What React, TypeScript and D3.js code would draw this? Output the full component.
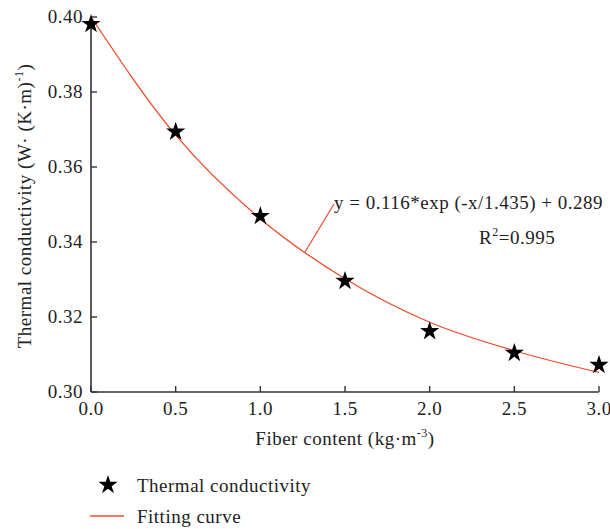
import React from "react";
import * as d3 from "d3";

const xValues = [0, 0.5, 1.0, 1.5, 2.0, 2.5, 3.0];
const conductivity = [0.3981, 0.3694, 0.3469, 0.3296, 0.3162, 0.3104, 0.3072];
const fitX = [0, 0.5, 1.0, 1.5, 2.0, 2.5, 3.0];
const fitY = [0.4, 0.3685, 0.3462, 0.3302, 0.3186, 0.311, 0.3052];
const xTicks = [0, 0.5, 1.0, 1.5, 2.0, 2.5, 3.0];
const yTicks = [0.3, 0.32, 0.34, 0.36, 0.38, 0.4];

const W = 610;
const H = 529;
const left = 91;
const right = 599;
const top = 17;
const bottom = 392;
const FONT = "'Liberation Serif', 'DejaVu Serif', serif";
const RED = "#f04a2a";
const AXIS = "#333";
const FS = 19;
const LS = 0.5;

export default function App() {
  const x = d3.scaleLinear().domain([0, 3]).range([left, right]);
  const y = d3.scaleLinear().domain([0.3, 0.4]).range([bottom, top]);
  const line = d3
    .line<number>()
    .x((_, i) => x(fitX[i]))
    .y((d) => y(d))
    .curve(d3.curveMonotoneX);
  const star = d3.symbol().type(d3.symbolStar).size(115)() as string;

  return (
    <svg
      width={W}
      height={H}
      style={{ position: "absolute", left: 0, top: 0, background: "#fff" }}
      fontFamily={FONT}
      letterSpacing={LS}
    >
      <rect width={W} height={H} fill="#fff" />
      <path d={line(fitY) || ""} fill="none" stroke={RED} strokeWidth={1.3} />
      <line x1={left} x2={left} y1={top} y2={bottom} stroke={AXIS} strokeWidth={1.6} />
      <line x1={left} x2={right} y1={bottom} y2={bottom} stroke={AXIS} strokeWidth={1.6} />
      {yTicks.map((t) => (
        <g key={"y" + t}>
          <line x1={left} x2={left + 6} y1={y(t)} y2={y(t)} stroke={AXIS} strokeWidth={1.4} />
          <text x={left - 8} y={y(t) + 6} textAnchor="end" fontSize={FS} fill="#222">
            {t.toFixed(2)}
          </text>
        </g>
      ))}
      {xTicks.map((t) => (
        <g key={"x" + t}>
          <line x1={x(t)} x2={x(t)} y1={bottom} y2={bottom - 6} stroke={AXIS} strokeWidth={1.4} />
          <text x={x(t)} y={bottom + 23} textAnchor="middle" fontSize={FS} fill="#222">
            {t.toFixed(1)}
          </text>
        </g>
      ))}
      {xValues.map((v, i) => (
        <path key={"p" + i} d={star} transform={`translate(${x(v)},${y(conductivity[i])})`} fill="#000" />
      ))}
      <line x1={305} y1={252} x2={334} y2={204} stroke={RED} strokeWidth={1.2} />
      <text x={334} y={209} fontSize={FS} fill="#222">
        y = 0.116*exp (-x/1.435) + 0.289
      </text>
      <text x={479} y={244} fontSize={FS} fill="#222">
        R<tspan dy={-8} fontSize={12}>2</tspan>
        <tspan dy={8}>=0.995</tspan>
      </text>
      <text
        transform={`translate(31,206) rotate(-90)`}
        textAnchor="middle"
        fontSize={FS}
        fill="#222"
      >
        Thermal conductivity (W· (K·m)
        <tspan dy={-8} fontSize={12}>-1</tspan>
        <tspan dy={8}>)</tspan>
      </text>
      <text x={345} y={445} textAnchor="middle" fontSize={FS} fill="#222">
        Fiber content (kg·m
        <tspan dy={-8} fontSize={12}>-3</tspan>
        <tspan dy={8}>)</tspan>
      </text>
      <path d={star} transform="translate(108,485)" fill="#000" />
      <text x={137} y={492} fontSize={FS} fill="#222">
        Thermal conductivity
      </text>
      <line x1={90} x2={124} y1={516} y2={516} stroke={RED} strokeWidth={1.3} />
      <text x={137} y={523} fontSize={FS} fill="#222">
        Fitting curve
      </text>
    </svg>
  );
}
